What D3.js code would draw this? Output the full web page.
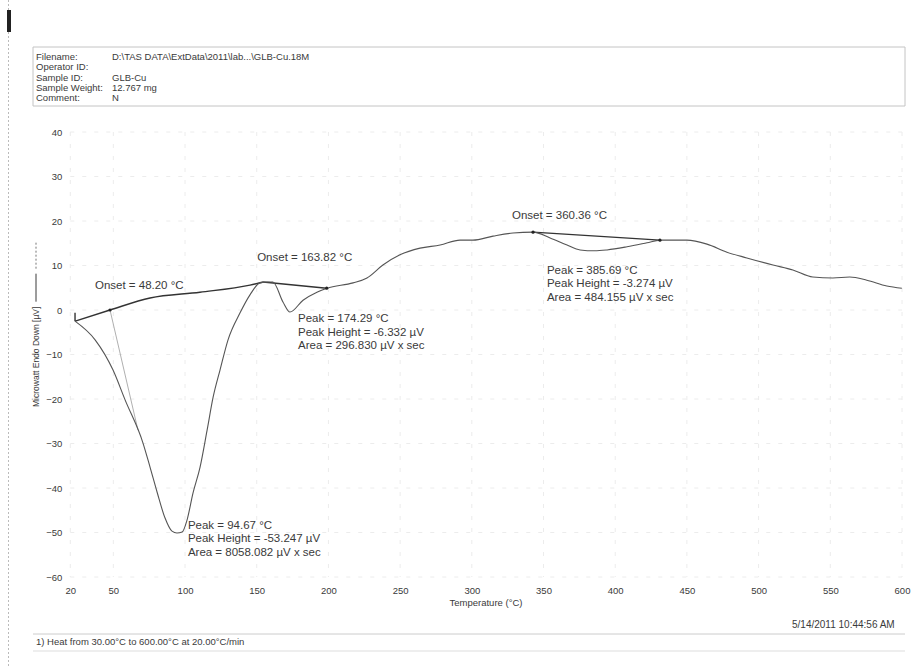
<!DOCTYPE html>
<html>
<head>
<meta charset="utf-8">
<script src="https://cdn.jsdelivr.net/npm/d3@7"></script>
<style>
  body { margin: 0; background: #fff; }
  svg { display: block; font-family: "Liberation Sans", Arial, sans-serif; }
</style>
</head>
<body>
<svg id="chart" width="912" height="666"></svg>
<script>
// heat flow curve (temperature in °C, signal in µV)
const curveT = [23.3, 37.3, 49.8, 58.2, 70.7, 75.6, 80.5, 86.0, 90.9, 94.4, 98.0,
  101.4, 105.6, 110.5, 115.4, 119.6, 124.4, 130.0, 138.3, 145.3, 152.3, 157.8,
  161.3, 168.3, 173.2, 182.3, 192.0, 199.0, 217.2, 226.9, 238.0, 249.9, 263.9,
  277.9, 291.8, 300.8, 314.8, 328.7, 342.7, 354.6, 366.4, 375.5, 385.7, 394.3,
  408.2, 422.2, 431.2, 450.0, 464.0, 477.9, 491.8, 510.0, 523.9, 537.8, 551.8,
  563.6, 575.5, 589.4, 599.9];
const curveV = [-2.5, -6.7, -13.5, -20.2, -29.9, -35.3, -40.9, -46.7, -49.7, -50.1, -49.9,
  -47.2, -41.1, -35.3, -27.0, -19.6, -13.5, -6.7, -0.7, 3.4, 6.1, 6.3,
  6.3, 1.8, -0.45, 2.2, 4.0, 4.9, 6.1, 7.2, 10.1, 12.4, 13.9,
  14.6, 15.7, 15.7, 16.6, 17.3, 17.5, 16.2, 14.6, 13.5, 13.3, 13.5,
  14.2, 15.1, 15.7, 15.7, 14.8, 13.0, 11.7, 10.1, 9.0, 7.4, 7.2,
  7.4, 6.7, 5.4, 4.9];

// integration baselines
const base1T = [23.3, 47.7, 75.6, 110.4, 145.3, 154.4];
const base1V = [-2.5, 0, 2.7, 4.0, 5.6, 6.3];
const base2T = [154.4, 198.8];
const base2V = [6.3, 4.9];
const base3T = [342.7, 431.2];
const base3V = [17.5, 15.7];
// start marker and onset tangent of the first peak
const startT = [23.3, 23.3];
const startV = [-0.6, -2.5];
const tangentT = [47.7, 67.2];
const tangentV = [0, -27];

const xTicks = [20, 50, 100, 150, 200, 250, 300, 350, 400, 450, 500, 550, 600];
const yTicks = [40, 30, 20, 10, 0, -10, -20, -30, -40, -50, -60];

const notes = [
  { t: 37.2, v: 4.7, lines: ["Onset = 48.20 °C"] },
  { t: 150.3, v: 11.0, lines: ["Onset = 163.82 °C"] },
  { t: 178.8, v: -2.7, lines: ["Peak = 174.29 °C", "Peak Height = -6.332 µV", "Area = 296.830 µV x sec"] },
  { t: 328, v: 20.4, lines: ["Onset = 360.36 °C"] },
  { t: 352.4, v: 8.1, lines: ["Peak = 385.69 °C", "Peak Height = -3.274 µV", "Area = 484.155 µV x sec"] },
  { t: 102, v: -49.2, lines: ["Peak = 94.67 °C", "Peak Height = -53.247 µV", "Area = 8058.082 µV x sec"] }
];

const headerKeys = ["Filename:", "Operator ID:", "Sample ID:", "Sample Weight:", "Comment:"];
const headerVals = ["D:\\TAS DATA\\ExtData\\2011\\lab...\\GLB-Cu.18M", "", "GLB-Cu", "12.767 mg", "N"];

const svg = d3.select("#chart");
const ink = "#3a3a3a";

const x = d3.scaleLinear().domain([20, 600]).range([70.3, 902]);
const y = d3.scaleLinear().domain([-60, 40]).range([577, 132]);

// scanner artefacts on the left edge
svg.append("line").attr("x1", 8.5).attr("x2", 8.5).attr("y1", 0).attr("y2", 666)
  .attr("stroke", "#bbb").attr("stroke-dasharray", "2,2");
svg.append("rect").attr("x", 7).attr("y", 10).attr("width", 4).attr("height", 22).attr("fill", "#222");

// header box
const hb = svg.append("g");
hb.append("path").attr("d", "M33,106 V47 H905 V106 H33")
  .attr("fill", "none").attr("stroke", "#c4c4c4").attr("stroke-width", 1);
headerKeys.forEach((k, i) => {
  const yy = 60 + i * 10.3;
  hb.append("text").attr("x", 36).attr("y", yy).attr("font-size", 9.5).attr("fill", ink).text(k);
  hb.append("text").attr("x", 112).attr("y", yy).attr("font-size", 9.5).attr("fill", ink).text(headerVals[i]);
});

// faint grid
const grid = svg.append("g").attr("stroke", "#ececec").attr("stroke-dasharray", "4,8");
grid.selectAll("line.gy").data(yTicks).join("line")
  .attr("x1", x(20)).attr("x2", x(600)).attr("y1", d => y(d)).attr("y2", d => y(d));
grid.selectAll("line.gx").data(xTicks).join("line")
  .attr("x1", d => x(d)).attr("x2", d => x(d)).attr("y1", y(40)).attr("y2", y(-60));

// axes: labels only, no domain or tick lines
const xAxis = svg.append("g").attr("transform", "translate(0," + (y(-60) + 4) + ")")
  .call(d3.axisBottom(x).tickValues(xTicks).tickSize(0).tickPadding(6));
const yAxis = svg.append("g").attr("transform", "translate(" + (x(20) - 8) + ",0)")
  .call(d3.axisLeft(y).tickValues(yTicks).tickSize(0).tickPadding(0));
[xAxis, yAxis].forEach(a => {
  a.select(".domain").remove();
  a.selectAll("text").attr("fill", ink).attr("font-size", 9.5)
    .attr("font-family", "Liberation Sans, Arial, sans-serif");
});

// axis titles
svg.append("text").attr("x", 486).attr("y", 606).attr("text-anchor", "middle")
  .attr("font-size", 9.5).attr("fill", ink).text("Temperature (°C)");
const yt = svg.append("text").attr("transform", "translate(39,407) rotate(-90)")
  .attr("font-size", 8.5).attr("fill", ink).text("Microwatt Endo Down [µV]");
const ytLen = yt.node().getComputedTextLength();
svg.append("line").attr("x1", 36).attr("x2", 36).attr("y1", 407 - ytLen - 5).attr("y2", 407 - ytLen - 33)
  .attr("stroke", ink);
svg.append("line").attr("x1", 36).attr("x2", 36).attr("y1", 407 - ytLen - 38).attr("y2", 407 - ytLen - 66)
  .attr("stroke", "#777").attr("stroke-dasharray", "2,2");

// curves
const line = d3.line().x(d => x(d[0])).y(d => y(d[1]));
const smooth = d3.line().x(d => x(d[0])).y(d => y(d[1])).curve(d3.curveMonotoneX);
const zipped = (ts, vs) => ts.map((t, i) => [t, vs[i]]);

svg.append("path").attr("d", line(zipped(tangentT, tangentV)))
  .attr("fill", "none").attr("stroke", "#b0b0b0").attr("stroke-width", 1);
svg.append("path").attr("d", line(zipped(startT, startV)))
  .attr("fill", "none").attr("stroke", "#333").attr("stroke-width", 1.4);
svg.append("path").attr("d", smooth(zipped(base1T, base1V)))
  .attr("fill", "none").attr("stroke", "#333").attr("stroke-width", 1.4);
[[base2T, base2V], [base3T, base3V]].forEach(([ts, vs]) => {
  svg.append("path").attr("d", line(zipped(ts, vs)))
    .attr("fill", "none").attr("stroke", "#333").attr("stroke-width", 1.4);
});
svg.append("path").attr("d", smooth(zipped(curveT, curveV)))
  .attr("fill", "none").attr("stroke", "#555").attr("stroke-width", 1.1);

// small markers where the baselines meet the curve
const marks = [[47.7, 0], [198.8, 4.9], [342.7, 17.5], [431.2, 15.7]];
svg.selectAll("circle.m").data(marks).join("circle")
  .attr("cx", d => x(d[0])).attr("cy", d => y(d[1])).attr("r", 1.6).attr("fill", "#222");

// annotations
notes.forEach(n => {
  const t = svg.append("text").attr("x", x(n.t)).attr("y", y(n.v))
    .attr("font-size", 11.5).attr("fill", ink);
  t.selectAll("tspan").data(n.lines).join("tspan")
    .attr("x", x(n.t)).attr("dy", (d, i) => i === 0 ? 0 : 13.5).text(d => d);
});

// footer
svg.append("text").attr("x", 792).attr("y", 628).attr("font-size", 10).attr("fill", ink)
  .text("5/14/2011 10:44:56 AM");
svg.append("line").attr("x1", 33).attr("x2", 905).attr("y1", 634).attr("y2", 634).attr("stroke", "#ccc");
svg.append("line").attr("x1", 33).attr("x2", 905).attr("y1", 651).attr("y2", 651).attr("stroke", "#ddd");
svg.append("text").attr("x", 36).attr("y", 645).attr("font-size", 9.5).attr("fill", ink)
  .text("1)  Heat from 30.00°C to 600.00°C at 20.00°C/min");
</script>
</body>
</html>
